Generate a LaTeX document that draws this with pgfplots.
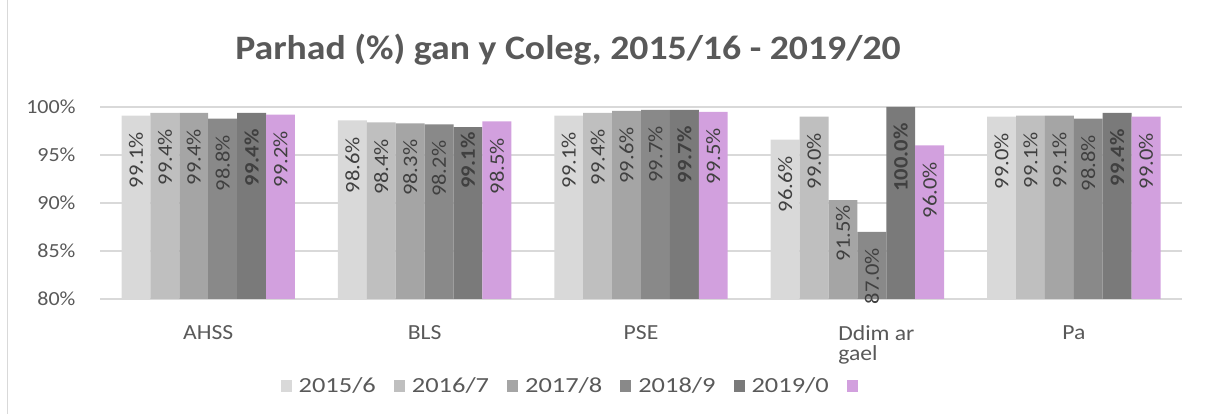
\documentclass[border=0pt]{standalone}
\usepackage{fontspec}
\setmainfont{Carlito}[FakeStretch=1.1]
\newfontfamily\legfam{Carlito}[FakeStretch=1.23]
\usepackage{pgfplots}
\pgfplotsset{compat=1.18}
\usepackage{pgfplotstable}
\definecolor{cA}{HTML}{D9D9D9}
\definecolor{cB}{HTML}{BFBFBF}
\definecolor{cC}{HTML}{A5A5A5}
\definecolor{cD}{HTML}{898989}
\definecolor{cE}{HTML}{7A7A7A}
\definecolor{cF}{HTML}{D2A0DE}
\definecolor{txt}{HTML}{595959}
\definecolor{lbl}{HTML}{404040}
\definecolor{gridc}{HTML}{D9D9D9}
\newcommand\tickfont{\fontsize{20}{22}\selectfont}
\newcommand\catfont{\fontsize{21.5}{20.5}\selectfont}
\newcommand\legfont{\legfam\fontsize{21.5}{24}\selectfont}
\newcommand\lblfont{\fontsize{20.5}{24}\selectfont}
\pgfplotsset{/pgf/number format/assume math mode=true,
  frame/.style={at={(100pt,115pt)}, anchor=south west, scale only axis,
    width=1082pt, height=192pt,
    xmin=-0.5, xmax=4.5, ymin=80, ymax=100,
    ybar=0pt, bar width=28.9pt}}

% x = category, h = bar height as drawn, v = value written on the bar
\pgfplotstableread{
x h v
0 99.1 99.1
1 98.6 98.6
2 99.1 99.1
3 96.6 96.6
4 99.0 99.0
}\sA
\pgfplotstableread{
x h v
0 99.4 99.4
1 98.4 98.4
2 99.4 99.4
3 99.0 99.0
4 99.1 99.1
}\sB
\pgfplotstableread{
x h v
0 99.4 99.4
1 98.3 98.3
2 99.6 99.6
3 90.3 91.5
4 99.1 99.1
}\sC
\pgfplotstableread{
x h v
0 98.8 98.8
1 98.2 98.2
2 99.7 99.7
3 87.0 87.0
4 98.8 98.8
}\sD
\pgfplotstableread{
x h v
0 99.4 99.4
1 97.9 99.1
2 99.7 99.7
3 100.0 100.0
4 99.4 99.4
}\sE
\pgfplotstableread{
x h v
0 99.2 99.2
1 98.5 98.5
2 99.5 99.5
3 96.0 96.0
4 99.0 99.0
}\sF

\begin{document}
\begin{tikzpicture}[x=1pt,y=1pt]
\useasboundingbox (0,0) rectangle (1205,414);
\draw[color=cA, line width=1pt] (7,0) -- (7,414);
\node[font=\fontsize{34.3}{37}\selectfont\bfseries, text=txt] at (568,364) {Parhad (\%) gan y Coleg, 2015/16 - 2019/20};
% bars, grid, ticks, legend
\begin{axis}[frame,
  axis line style={draw=none},
  major tick length=0pt,
  ymajorgrids, grid style={color=gridc, line width=1.3pt},
  ytick={80,85,90,95,100},
  yticklabel={\pgfmathprintnumber{\tick}\%},
  yticklabel style={font=\tickfont, text=txt, xshift=-21pt},
  xtick={0,1,2,3,4},
  xticklabels={AHSS,BLS,PSE,{\hspace*{38pt}Ddim ar\\\hspace*{38pt}gael},Pa},
  xticklabel style={font=\catfont, text=txt, align=left, yshift=-23pt},
  legend columns=6,
  legend style={at={(0.164,-0.45)}, anchor=west, draw=none, fill=none, font=\legfont, text=txt,
    /tikz/every odd column/.append style={column sep=5pt},
    /tikz/every even column/.append style={column sep=16pt}},
  legend image code/.code={\path[#1, draw=none] (0pt,-7pt) rectangle (11pt,5pt);},
]
\addplot[fill=cA, draw=none] table[x=x, y=h] {\sA};
\addlegendentry{2015/6}
\addplot[fill=cB, draw=none] table[x=x, y=h] {\sB};
\addlegendentry{2016/7}
\addplot[fill=cC, draw=none] table[x=x, y=h] {\sC};
\addlegendentry{2017/8}
\addplot[fill=cD, draw=none] table[x=x, y=h] {\sD};
\addlegendentry{2018/9}
\addplot[fill=cE, draw=none] table[x=x, y=h] {\sE};
\addlegendentry{2019/0}
\addplot[fill=cF, draw=none] table[x=x, y=h] {\sF};
\addlegendentry{\mbox{}}
\end{axis}
% data labels, placed at the value written on each bar
\begin{axis}[frame, hide axis,
  nodes near coords={\pgfmathprintnumber[fixed,fixed zerofill,precision=1]{\pgfplotspointmeta}\%\hspace*{13pt}},
  every node near coord/.append style={rotate=90, anchor=east, font=\lblfont, text=lbl},
]
\addplot[fill=none, draw=none] table[x=x, y=v] {\sA};
\addplot[fill=none, draw=none] table[x=x, y=v] {\sB};
\addplot[fill=none, draw=none] table[x=x, y=v] {\sC};
\addplot[fill=none, draw=none] table[x=x, y=v] {\sD};
\addplot[fill=none, draw=none, every node near coord/.append style={font=\lblfont\bfseries}] table[x=x, y=v] {\sE};
\addplot[fill=none, draw=none] table[x=x, y=v] {\sF};
\end{axis}
\end{tikzpicture}
\end{document}
